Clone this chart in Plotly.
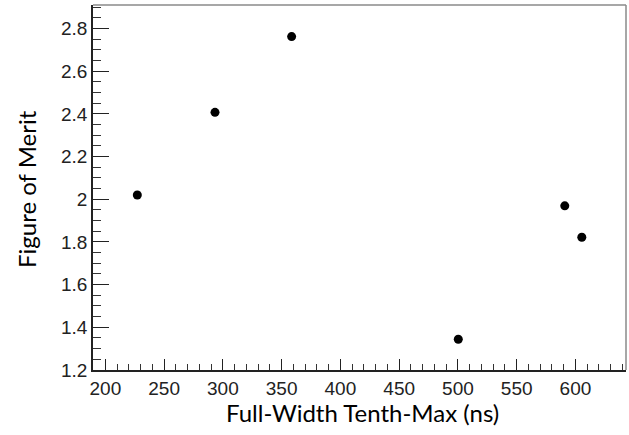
import plotly.graph_objects as go

fwtm_ns = [227.2, 293.3, 358.5, 500.3, 590.9, 605.4]
figure_of_merit = [2.02, 2.407, 2.762, 1.344, 1.969, 1.822]

x_tickvals = [200, 250, 300, 350, 400, 450, 500, 550, 600]
y_tickvals = [1.2, 1.4, 1.6, 1.8, 2.0, 2.2, 2.4, 2.6, 2.8]
y_ticktext = ["1.2", "1.4", "1.6", "1.8", "2", "2.2", "2.4", "2.6", "2.8"]

fig = go.Figure()
fig.add_trace(go.Scatter(
    x=fwtm_ns, y=figure_of_merit, mode="markers",
    marker=dict(color="black", size=9, line=dict(width=0)),
    showlegend=False, cliponaxis=False,
))

tickfont = dict(family="Liberation Sans, Arial, sans-serif", size=19, color="#222")
fig.update_layout(
    width=629, height=435,
    margin=dict(l=93, r=3, t=5, b=65, pad=0),
    paper_bgcolor="white", plot_bgcolor="white",
    xaxis=dict(
        range=[189.5, 643], tickvals=x_tickvals, ticks="inside", ticklen=11, tickwidth=1.3,
        tickcolor="#222", showgrid=False, zeroline=False, showline=True, linecolor="#222",
        linewidth=1.5, tickfont=tickfont, automargin=False,
        minor=dict(dtick=10, tick0=200, ticks="inside", ticklen=6, tickwidth=1, tickcolor="#333", showgrid=False),
    ),
    yaxis=dict(
        range=[1.2, 2.91], tickvals=y_tickvals, ticktext=y_ticktext, ticks="inside", ticklen=16,
        tickwidth=1.3, tickcolor="#222", showgrid=False, zeroline=False, showline=True,
        linecolor="#222", linewidth=1.5, tickfont=tickfont, automargin=False,
        minor=dict(dtick=0.05, tick0=1.2, ticks="inside", ticklen=8, tickwidth=1, tickcolor="#333", showgrid=False),
    ),
    shapes=[
        dict(type="line", xref="paper", yref="paper", x0=0, x1=1, y0=1, y1=1,
             line=dict(color="#8a8a8a", width=1.5)),
        dict(type="line", xref="paper", yref="paper", x0=1, x1=1, y0=0, y1=1,
             line=dict(color="#8a8a8a", width=1.5)),
    ],
    annotations=[
        dict(text="Full-Width Tenth-Max (ns)", xref="paper", yref="paper",
             x=(362 - 93) / 533, y=-(412 - 370) / 365, xanchor="center", yanchor="middle",
             showarrow=False, font=dict(family="Lato, Open Sans, sans-serif", size=24, color="black")),
        dict(text="Figure of Merit", xref="paper", yref="paper",
             x=-(93 - 27) / 533, y=(370 - 189) / 365, xanchor="center", yanchor="middle",
             textangle=-90, showarrow=False,
             font=dict(family="Lato, Open Sans, sans-serif", size=24, color="black")),
    ],
)

fig.write_html("out.html", config={"displayModeBar": False},
               post_script="document.body.style.margin='0';")
